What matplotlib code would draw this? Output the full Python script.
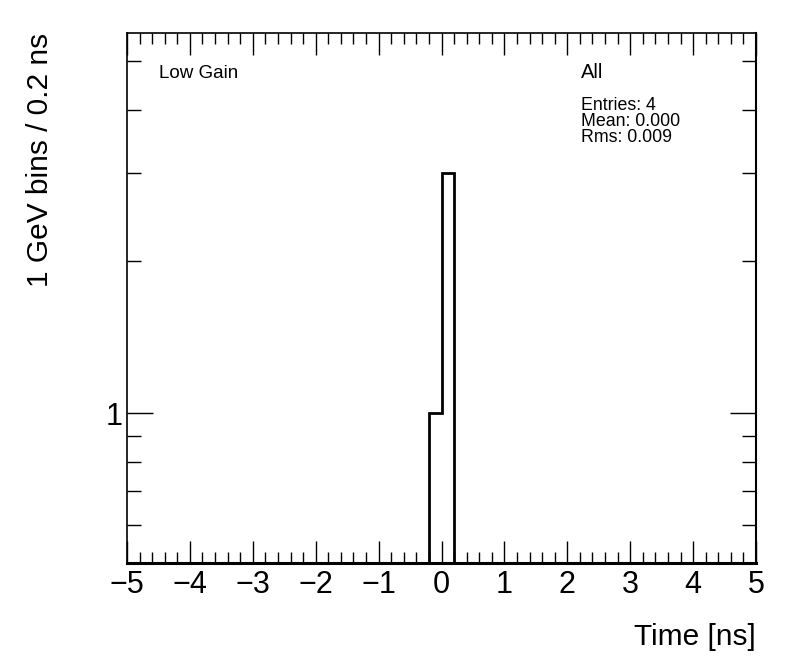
import numpy as np
import matplotlib
matplotlib.use("Agg")
import matplotlib.pyplot as plt
from matplotlib.ticker import FixedLocator, NullFormatter, MultipleLocator

plt.rcParams['font.family'] = ['Liberation Sans', 'DejaVu Sans']

# Data
bin_edges = [-0.2, 0.0, 0.2]
counts = [1, 3]
x_ticks = [-5, -4, -3, -2, -1, 0, 1, 2, 3, 4, 5]
stats_lines = ["Entries: 4", "Mean: 0.000", "Rms: 0.009"]

ymin, ymax = 0.504, 5.67

fig = plt.figure(figsize=(7.96, 6.72), dpi=100)
ax = fig.add_axes([127/796, 1-563.3/672, (756-127)/796, (563.3-33.3)/672])

ax.stairs(counts, bin_edges, baseline=ymin, color='black', linewidth=2.0)

ax.set_xlim(-5, 5)
ax.set_yscale('log')
ax.set_ylim(ymin, ymax)

ax.xaxis.set_major_locator(FixedLocator(x_ticks))
ax.xaxis.set_minor_locator(MultipleLocator(0.2))
ax.set_xticklabels([str(v).replace('-', '\u2212') for v in x_ticks])
ax.yaxis.set_major_locator(FixedLocator([1]))
ax.set_yticklabels(['1'])
ax.yaxis.set_minor_locator(FixedLocator([0.6, 0.7, 0.8, 0.9, 2, 3, 4, 5]))
ax.yaxis.set_minor_formatter(NullFormatter())

ax.tick_params(axis='both', which='both', direction='in', top=True, right=True,
               width=1, colors='black', labelsize=22)
ax.tick_params(axis='x', which='major', length=16, pad=5)
ax.tick_params(axis='x', which='minor', length=8)
ax.tick_params(axis='y', which='major', length=19, pad=3)
ax.tick_params(axis='y', which='minor', length=10)

for s in ax.spines.values():
    s.set_linewidth(1.2)
ax.spines['bottom'].set_linewidth(2.2)
ax.spines['right'].set_linewidth(1.5)

fig.text(756/796, 1-637/672, "Time [ns]", ha='right', va='center', fontsize=21.5)
fig.text(40/796, 1-33/672, "1 GeV bins / 0.2 ns", ha='center', va='top',
         rotation=90, fontsize=21.5)

fig.text(159/796, 1-73/672, "Low Gain", ha='left', va='center', fontsize=13.5)
fig.text(581/796, 1-73/672, "All", ha='left', va='center', fontsize=14.5)
for i, line in enumerate(stats_lines):
    fig.text(581/796, 1-(106 + i*16)/672, line, ha='left', va='center', fontsize=12.8)

fig.savefig("out.png", dpi=100)
